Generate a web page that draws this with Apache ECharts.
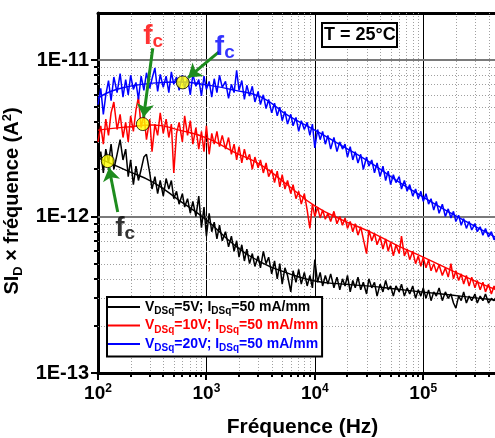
<!DOCTYPE html>
<html><head><meta charset="utf-8">
<script src="https://cdn.jsdelivr.net/npm/echarts@6/dist/echarts.min.js"></script>
<style>html,body{margin:0;padding:0;background:#fff}#c{width:495px;height:438px}</style>
</head><body><div id="c"></div>
<script>
// ---------- DATA ----------
const UNIT = 1e-12; // values below are in 1e-12 A^2
const freq = [100,106,112,118,125,132,140,150,160,170,180,190,200,212,224,236,250,265,280,300,315,335,355,375,400,425,450,475,500,530,560,600,630,670,710,750,800,850,900,950,
1000,1060,1120,1180,1250,1320,1400,1500,1600,1700,1800,1900,2000,2120,2240,2360,2500,2650,2800,3000,3150,3350,3550,3750,4000,4250,4500,4750,5000,5300,5600,6000,6300,6700,7100,7500,8000,8500,9000,9500,
10000,10600,11200,11800,12500,13200,14000,15000,16000,17000,18000,19000,20000,21200,22400,23600,25000,26500,28000,30000,31500,33500,35500,37500,40000,42500,45000,47500,50000,53000,56000,60000,63000,67000,71000,75000,80000,85000,90000,95000,
100000,106000,112000,118000,125000,132000,140000,150000,160000,170000,180000,190000,200000,212000,224000,236000,250000,265000,280000,300000,315000,335000,355000,375000,400000,425000,450000,475000];

const sBlack = [2.1,2.6,1.9,2.7,2.2,2.9,2.0,2.5,3.1,2.3,
2.7,1.8,2.3,1.6,2.1,1.7,2.0,2.4,2.5,1.9,
1.5,1.8,1.4,1.7,1.35,1.75,1.5,1.7,1.3,1.45,
1.2,1.4,1.15,1.3,1.05,1.25,1.0,1.35,0.85,1.15,
0.75,1.05,0.8,0.92,0.72,0.88,0.7,0.8,0.64,0.75,
0.6,0.7,0.55,0.66,0.52,0.62,0.5,0.58,0.48,0.56,
0.47,0.6,0.5,0.55,0.43,0.52,0.4,0.5,0.37,0.47,
0.42,0.33,0.45,0.38,0.46,0.37,0.44,0.36,0.42,0.35,
0.53,0.38,0.44,0.36,0.42,0.37,0.43,0.35,0.41,0.34,
0.40,0.36,0.42,0.33,0.39,0.35,0.41,0.34,0.38,0.32,
0.40,0.35,0.38,0.31,0.37,0.33,0.39,0.34,0.36,0.31,
0.36,0.33,0.37,0.31,0.35,0.32,0.36,0.30,0.34,0.31,
0.35,0.30,0.34,0.29,0.33,0.31,0.35,0.29,0.33,0.30,
0.32,0.28,0.26,0.31,0.29,0.33,0.28,0.31,0.29,0.32,
0.28,0.31,0.29,0.32,0.28,0.30,0.29,0.31];

const sRed = [3.0,3.8,2.9,4.2,3.3,4.6,5.4,3.6,4.5,3.2,
4.0,3.0,4.4,3.5,4.8,5.8,3.7,4.5,3.1,4.2,
2.6,3.9,3.3,4.6,3.4,4.2,3.2,3.9,1.9,3.4,
4.0,3.0,4.4,3.3,4.1,2.9,3.7,2.7,3.5,2.6,
3.8,2.5,3.4,2.9,3.5,2.8,3.3,2.7,3.2,2.5,
2.9,2.3,2.8,2.2,2.7,2.3,2.5,2.0,2.4,2.05,
2.3,1.9,2.2,1.8,2.0,1.65,1.95,1.55,1.85,1.5,
1.7,1.4,1.6,1.3,1.45,1.2,1.4,1.1,0.84,1.2,
1.0,1.15,0.98,1.1,0.96,1.05,0.93,1.08,0.9,1.0,
0.88,0.98,0.84,0.93,0.8,0.9,0.76,0.86,0.72,0.58,
0.82,0.7,0.78,0.66,0.74,0.62,0.72,0.6,0.68,0.56,
0.66,0.58,0.75,0.56,0.62,0.53,0.6,0.5,0.56,0.48,
0.55,0.47,0.53,0.45,0.5,0.44,0.49,0.42,0.47,0.41,
0.5,0.4,0.45,0.39,0.43,0.37,0.42,0.36,0.41,0.35,
0.39,0.34,0.38,0.33,0.37,0.32,0.36,0.33];

const sBlue = [5.2,6.6,4.5,6.0,7.4,5.5,7.8,6.2,8.2,5.8,
7.5,6.0,8.0,6.5,7.2,5.6,7.9,6.4,8.3,6.6,
7.6,8.9,6.3,8.1,6.7,7.9,6.2,8.4,7.0,7.8,
6.4,8.0,6.6,7.7,6.0,8.1,6.8,7.5,5.9,7.9,
6.5,7.3,5.8,7.6,6.2,8.0,6.7,7.3,5.7,7.0,
6.2,8.6,6.4,7.4,5.6,6.9,5.9,6.8,5.4,6.3,
5.2,6.0,4.9,5.6,4.6,5.3,4.4,5.0,4.1,4.7,
3.9,4.5,3.8,4.3,3.5,4.1,3.6,4.0,3.3,3.9,
2.75,3.6,3.1,3.5,2.9,3.3,2.7,3.2,2.6,3.0,
2.7,2.9,2.4,2.8,2.3,2.6,2.2,2.5,2.0,2.4,
2.1,2.3,1.9,2.2,1.8,2.1,1.7,1.95,1.6,1.85,
1.65,1.8,1.5,1.7,1.45,1.6,1.35,1.5,1.3,1.45,
1.25,1.4,1.2,1.3,1.1,1.25,1.05,1.2,1.0,1.12,
0.98,1.08,0.93,1.02,0.88,0.97,0.84,0.93,0.82,0.9,
0.8,0.86,0.76,0.84,0.74,0.8,0.71,0.76];

const fitFreq  = [100,130,180,320,560,1000,1800,3200,5600,10000,18000,32000,56000,100000,180000,320000,475000];
const fitBlack = [2.37,2.19,1.98,1.66,1.27,0.95,0.66,0.51,0.435,0.387,0.370,0.359,0.344,0.329,0.315,0.301,0.292];
const fitRed   = [3.57,3.65,3.73,3.85,3.57,3.18,2.58,2.13,1.59,1.17,0.95,0.80,0.66,0.55,0.455,0.38,0.34];
const fitBlue  = [5.71,6.3,6.72,7.13,7.24,6.94,6.43,5.80,4.45,3.57,2.82,2.23,1.71,1.33,1.05,0.845,0.73];

// corner frequencies (yellow dots)
const fcFreq  = [123, 259, 605];
const fcValue = [2.26, 3.9, 7.2];
const fcColors = ['#000000', '#ff0000', '#0000ff'];
// "fc" text anchors and green arrows (start -> tip), data coords
const fcLabelFreq  = [178, 323, 1476];
const fcLabelValue = [0.845, 14.2, 12.0];
const arrowStartF = [152, 320, 1297];
const arrowStartV = [1.07, 11.9, 11.25];
const arrowEndF   = [126.3, 263.5, 678];
const arrowEndV   = [2.05, 4.33, 7.73];

const seriesNames = ['V5', 'V10', 'V20'];
const vdsLabels = ['5V', '10V', '20V'];
const xDecades = [100, 1000, 10000, 100000];
const yDecades = [1e-13, 1e-12, 1e-11];
const X_MIN = 100, X_MAX = 459000, Y_MIN = 1e-13, Y_MAX = 2e-11;

// ---------- BUILD ----------
const FONT = 'Liberation Sans, Arial, Helvetica, sans-serif';
const GREEN = '#1e8c1e';
const xMinor = [], yMinor = [];
xDecades.forEach(d => { for (let k = 2; k <= 9; k++) { const v = d * k; if (v < X_MAX) xMinor.push(v); } });
yDecades.forEach(d => { for (let k = 2; k <= 9; k++) { const v = d * k; if (v < Y_MAX * 0.999) yMinor.push(v); } });

const isDecade = v => { const l = Math.log10(v); return Math.abs(l - Math.round(l)) < 1e-6; };

function renderXGrid(params, api) {
  const v = api.value(0), major = api.value(2);
  const p = api.coord([v, 1e-12]);
  const cs = params.coordSys;
  const bottom = cs.y + cs.height;
  const x = Math.round(p[0]);
  const ch = [];
  if (major) {
    if (p[0] - cs.x > 2) ch.push({type: 'line', shape: {x1: x + 0.5, y1: cs.y, x2: x + 0.5, y2: bottom}, style: {stroke: '#000', lineWidth: 1}});
  } else {
    ch.push({type: 'line', shape: {x1: x + 0.5, y1: cs.y, x2: x + 0.5, y2: bottom}, style: {stroke: '#a0a0a0', lineWidth: 1, lineDash: [1, 2]}});
  }
  ch.push({type: 'line', shape: {x1: x, y1: bottom, x2: x, y2: bottom + (major ? 7 : 4)}, style: {stroke: '#000', lineWidth: 2}});
  return {type: 'group', children: ch};
}
function renderYGrid(params, api) {
  const v = api.value(1), major = api.value(2);
  const p = api.coord([1000, v]);
  const cs = params.coordSys;
  const y = Math.round(p[1]);
  const ch = [];
  if (major) {
    if (cs.y + cs.height - p[1] > 2) ch.push({type: 'line', shape: {x1: cs.x, y1: y, x2: cs.x + cs.width, y2: y}, style: {stroke: '#7a7a7a', lineWidth: 2}});
  } else {
    ch.push({type: 'line', shape: {x1: cs.x, y1: y + 0.5, x2: cs.x + cs.width, y2: y + 0.5}, style: {stroke: '#a0a0a0', lineWidth: 1, lineDash: [1, 2]}});
  }
  ch.push({type: 'line', shape: {x1: cs.x - (major ? 7 : 4), y1: y, x2: cs.x, y2: y}, style: {stroke: '#000', lineWidth: 2}});
  return {type: 'group', children: ch};
}

const dataSeries = [sBlack, sRed, sBlue].map((arr, k) => ({
  name: seriesNames[k], type: 'line', color: fcColors[k], showSymbol: false, z: 3,
  lineStyle: {width: 1.5, color: fcColors[k]},
  data: freq.map((f, i) => [f, arr[i] * UNIT])
}));
const fitSeries = [fitBlack, fitRed, fitBlue].map((arr, k) => ({
  name: 'fit' + k, type: 'line', smooth: true, showSymbol: false, z: 4,
  lineStyle: {width: 1.4, color: fcColors[k]},
  data: fitFreq.map((f, i) => [f, arr[i] * UNIT])
}));

const legendKeys = ['k', 'r', 'b'];
const legendRich = {};
legendKeys.forEach((key, k) => {
  legendRich['m' + key] = {color: fcColors[k], fontFamily: FONT, fontWeight: 'bold', fontSize: 14, lineHeight: 19};
  legendRich['s' + key] = {color: fcColors[k], fontFamily: FONT, fontWeight: 'bold', fontSize: 10, lineHeight: 10, verticalAlign: 'bottom'};
});

const fcLabelRich = {};
legendKeys.forEach((key, k) => {
  fcLabelRich['f' + key] = {color: fcColors[k], fontFamily: FONT, fontWeight: 'bold', fontSize: 28, lineHeight: 30};
  fcLabelRich['c' + key] = {color: fcColors[k], fontFamily: FONT, fontWeight: 'bold', fontSize: 19, lineHeight: 19, verticalAlign: 'bottom'};
});

const option = {
  animation: false,
  backgroundColor: '#fff',
  grid: {left: 98, top: 13, right: 0, bottom: 65, containLabel: false, outerBoundsMode: 'none'},
  title: {
    text: 'T = 25°C', left: 322, top: 23, padding: [3, 2],
    borderColor: '#000', borderWidth: 2, backgroundColor: '#fff',
    textStyle: {fontFamily: FONT, fontWeight: 'bold', fontSize: 18, color: '#000'}
  },
  legend: {
    left: 107, top: 297, orient: 'vertical', padding: [3, 4, 3, 1], itemGap: 2,
    itemWidth: 32, itemHeight: 2, icon: 'rect',
    backgroundColor: '#fff', borderColor: '#000', borderWidth: 2,
    data: seriesNames,
    formatter: name => {
      const k = seriesNames.indexOf(name); const c = legendKeys[k];
      return '{m' + c + '|V}{s' + c + '|DSq}{m' + c + '|=' + vdsLabels[k] + '; I}{s' + c + '|DSq}{m' + c + '|=50 mA/mm}';
    },
    textStyle: {rich: legendRich}
  },
  xAxis: [{
    type: 'log', logBase: 10, min: X_MIN, max: X_MAX, position: 'bottom',
    axisLine: {show: true, onZero: false, lineStyle: {color: '#000', width: 3}},
    axisTick: {show: false}, splitLine: {show: false}, minorTick: {show: false}, minorSplitLine: {show: false},
    axisLabel: {
      margin: 10, showMinLabel: true, showMaxLabel: true,
      formatter: v => isDecade(v) ? '{b|10}{s|' + Math.round(Math.log10(v)) + '}' : '',
      rich: {
        b: {fontFamily: FONT, fontWeight: 'bold', fontSize: 19, lineHeight: 22, color: '#000'},
        s: {fontFamily: FONT, fontWeight: 'bold', fontSize: 12, lineHeight: 12, verticalAlign: 'top', color: '#000'}
      }
    },
    name: 'Fréquence (Hz)', nameLocation: 'middle', nameGap: 44,
    nameTextStyle: {fontFamily: FONT, fontWeight: 'bold', fontSize: 21, color: '#000', padding: [0, 0, 0, 12]}
  }, {
    type: 'log', logBase: 10, min: X_MIN, max: X_MAX, position: 'top',
    axisLine: {show: true, onZero: false, lineStyle: {color: '#000', width: 3}},
    axisTick: {show: false}, axisLabel: {show: false}, splitLine: {show: false}
  }],
  yAxis: {
    type: 'log', logBase: 10, min: Y_MIN, max: Y_MAX,
    axisLine: {show: true, onZero: false, lineStyle: {color: '#000', width: 3}},
    axisTick: {show: false}, splitLine: {show: false}, minorTick: {show: false},
    axisLabel: {
      margin: 9, fontFamily: FONT, fontWeight: 'bold', fontSize: 20, color: '#000',
      formatter: v => isDecade(v) ? '1E' + Math.round(Math.log10(v)) : ''
    },
    name: '{m|SI}{s|D}{m| × fréquence (A}{p|2}{m|)}', nameLocation: 'middle', nameGap: 56, nameRotate: 90,
    nameTextStyle: {
      padding: [0, 16, 0, 0],
      rich: {
        m: {fontFamily: FONT, fontWeight: 'bold', fontSize: 20, lineHeight: 24, color: '#000'},
        s: {fontFamily: FONT, fontWeight: 'bold', fontSize: 13, lineHeight: 13, verticalAlign: 'bottom', color: '#000'},
        p: {fontFamily: FONT, fontWeight: 'bold', fontSize: 13, lineHeight: 13, verticalAlign: 'top', color: '#000'}
      }
    }
  },
  series: [
    {
      type: 'custom', name: 'xgrid', z: 1, silent: true, clip: false,
      dimensions: ['x', 'y', 'major'], encode: {x: 0, y: 1},
      renderItem: renderXGrid,
      data: xDecades.map(v => [v, 1e-12, 1]).concat(xMinor.map(v => [v, 1e-12, 0]))
    },
    {
      type: 'custom', name: 'ygrid', z: 1, silent: true, clip: false,
      dimensions: ['x', 'y', 'major'], encode: {x: 0, y: 1},
      renderItem: renderYGrid,
      data: yDecades.map(v => [1000, v, 1]).concat(yMinor.map(v => [1000, v, 0]))
    },
    ...dataSeries,
    ...fitSeries,
    {
      name: 'fc', type: 'scatter', z: 6, symbolSize: 13,
      itemStyle: {color: '#ffff00', borderColor: '#000', borderWidth: 1},
      data: fcFreq.map((f, i) => [f, fcValue[i] * UNIT]),
      markLine: {
        silent: true, symbol: ['none', 'arrow'], symbolSize: 13, animation: false,
        itemStyle: {color: GREEN},
        lineStyle: {color: GREEN, width: 3, type: 'solid'}, label: {show: false},
        data: arrowStartF.map((f, i) => [
          {coord: [f, arrowStartV[i] * UNIT], itemStyle: {color: GREEN}},
          {coord: [arrowEndF[i], arrowEndV[i] * UNIT], itemStyle: {color: GREEN}}
        ])
      }
    },
    {
      name: 'fclabels', type: 'scatter', z: 7, symbolSize: 0, silent: true,
      itemStyle: {color: 'rgba(0,0,0,0)'},
      label: {show: true, position: 'inside', rich: fcLabelRich},
      data: fcLabelFreq.map((f, i) => ({
        value: [f, fcLabelValue[i] * UNIT],
        label: {formatter: '{f' + legendKeys[i] + '|f}{c' + legendKeys[i] + '|c}'}
      }))
    }
  ]
};

const chart = echarts.init(document.getElementById('c'), null, {renderer: 'canvas', width: 495, height: 438});
chart.setOption(option);
</script>
</body></html>
